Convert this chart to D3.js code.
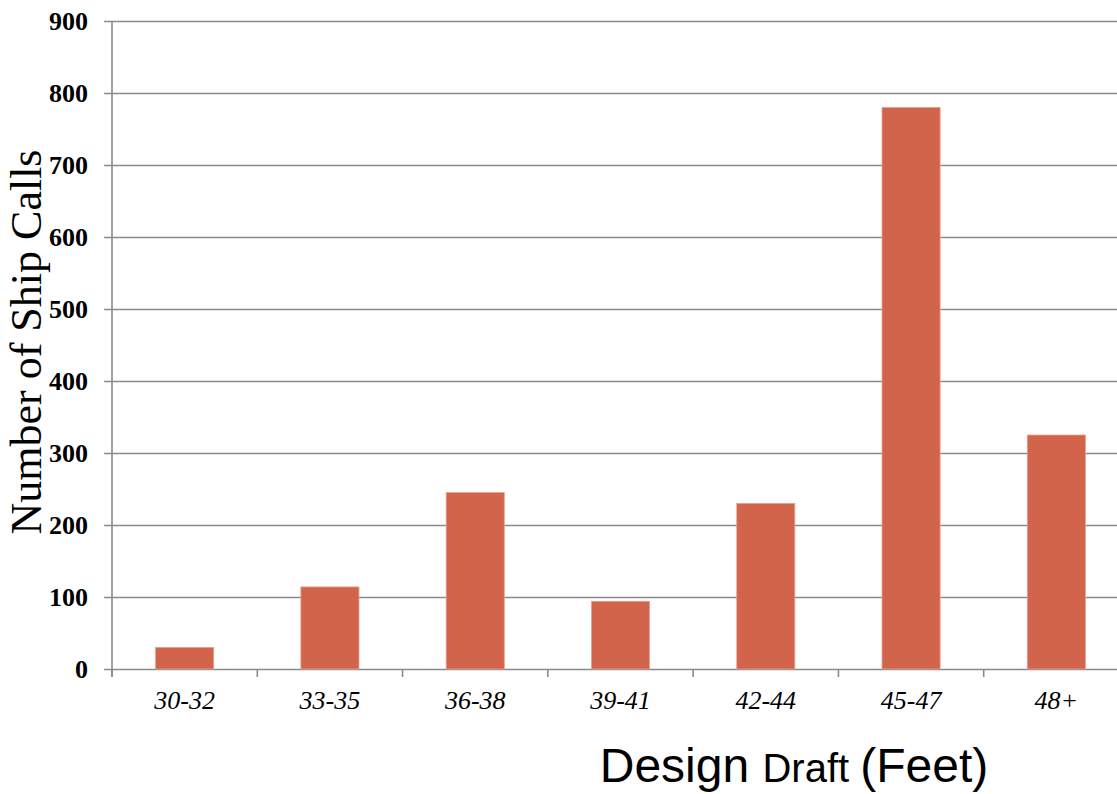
<!DOCTYPE html>
<html>
<head>
<meta charset="utf-8">
<script src="https://cdn.jsdelivr.net/npm/d3@7"></script>
<style>
  html, body { margin: 0; padding: 0; background: #fff; overflow: hidden; }
  svg { display: block; }
</style>
</head>
<body>
<svg id="chart" width="1117" height="794"></svg>
<script>
// Ship calls by design draft range
const categories = ["30-32", "33-35", "36-38", "39-41", "42-44", "45-47", "48+"];
const shipCalls = [30, 114, 245, 94, 230, 780, 325];
const yTicks = [0, 100, 200, 300, 400, 500, 600, 700, 800, 900];

const svg = d3.select("#chart");
const plotLeft = 112, plotRight = 1129, plotTop = 21, plotBottom = 669;
const serif = "'Liberation Serif', 'Times New Roman', serif";

const x = d3.scaleBand().domain(categories).range([plotLeft, plotRight]).paddingInner(0.6).paddingOuter(0.3);
const xStep = d3.scaleBand().domain(categories).range([plotLeft, plotRight]);
const y = d3.scaleLinear().domain([0, 900]).range([plotBottom, plotTop]);

const gridColor = "#8a8a8a";

// horizontal gridlines with short ticks to the left of the axis
svg.append("g")
  .attr("transform", `translate(${plotLeft},0)`)
  .call(d3.axisLeft(y).tickValues(yTicks).tickSize(-(plotRight - plotLeft)).tickSizeOuter(0).tickPadding(0).tickFormat(""))
  .call(g => g.select(".domain").remove())
  .call(g => g.selectAll(".tick line").attr("stroke", gridColor).attr("stroke-width", 1.6).attr("x1", -8));

// y tick labels
svg.append("g").selectAll("text").data(yTicks).join("text")
  .attr("x", 88).attr("y", d => y(d) + 9)
  .attr("text-anchor", "end")
  .attr("font-family", serif)
  .attr("font-weight", "bold").attr("font-size", 26)
  .text(d => d);

// bars
svg.append("g").selectAll("rect").data(shipCalls).join("rect")
  .attr("x", (d, i) => x(categories[i]))
  .attr("width", x.bandwidth())
  .attr("y", d => y(d))
  .attr("height", d => y(0) - y(d))
  .attr("fill", "#d1644b")
  .attr("stroke", "#e9a08e").attr("stroke-width", 0.8);

// vertical axis line
svg.append("line")
  .attr("x1", plotLeft).attr("x2", plotLeft).attr("y1", plotTop).attr("y2", plotBottom + 8)
  .attr("stroke", gridColor).attr("stroke-width", 1.6);

// category tick marks along the baseline
const xTickPos = categories.map(c => xStep(c)).concat([plotRight]);
svg.append("g").selectAll("line").data(xTickPos).join("line")
  .attr("x1", d => d).attr("x2", d => d)
  .attr("y1", plotBottom).attr("y2", plotBottom + 8)
  .attr("stroke", gridColor).attr("stroke-width", 1.6);

// category labels
svg.append("g").selectAll("text").data(categories).join("text")
  .attr("x", d => xStep(d) + xStep.bandwidth() / 2)
  .attr("y", 709)
  .attr("text-anchor", "middle")
  .attr("font-family", serif)
  .attr("font-style", "italic").attr("font-size", 26)
  .text(d => d);

// y axis title
svg.append("text")
  .attr("transform", "translate(41,342) rotate(-90)")
  .attr("text-anchor", "middle")
  .attr("font-family", serif)
  .attr("font-size", 44)
  .text("Number of Ship Calls");

// x axis title with mixed sizes
const xt = svg.append("text")
  .attr("x", 794).attr("y", 782)
  .attr("text-anchor", "middle")
  .attr("font-family", "'Liberation Sans', Arial, sans-serif")
  .attr("fill", "#000");
xt.append("tspan").attr("font-size", 48).text("Design ");
xt.append("tspan").attr("font-size", 40).text("Draft ");
xt.append("tspan").attr("font-size", 48).text("(Feet)");
</script>
</body>
</html>
